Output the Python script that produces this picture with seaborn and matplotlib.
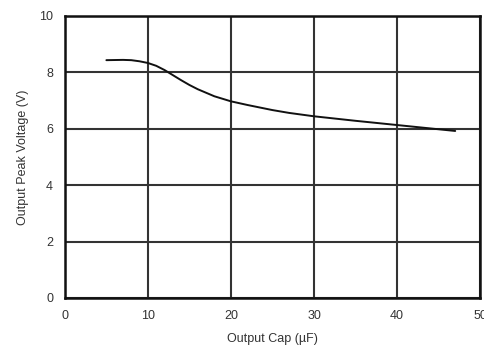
import matplotlib
matplotlib.use("Agg")
import matplotlib.pyplot as plt
import seaborn as sns
import pandas as pd

# Output peak voltage versus output capacitance
cap_uF = [5, 7, 8, 9, 10, 11, 12, 13, 14, 15, 16, 18, 20, 22, 25, 27, 30, 35, 40, 47]
peak_v = [8.43, 8.44, 8.43, 8.39, 8.33, 8.23, 8.08, 7.90, 7.72, 7.55, 7.40, 7.15,
          6.97, 6.84, 6.66, 6.56, 6.44, 6.28, 6.13, 5.92]
x_ticks = [0, 10, 20, 30, 40, 50]
y_ticks = [0, 2, 4, 6, 8, 10]

df = pd.DataFrame({"cap": cap_uF, "vpk": peak_v})

sns.set_style("white")
plt.rcParams["font.family"] = ["Liberation Sans", "DejaVu Sans"]

fig = plt.figure(figsize=(4.84, 3.53), dpi=100)
ax = fig.add_axes([0.134, 0.156, 0.858, 0.799])

sns.lineplot(data=df, x="cap", y="vpk", ax=ax, color="#111111", linewidth=1.4)

ax.set_xlim(0, 50)
ax.set_ylim(0, 10)
ax.set_xticks(x_ticks)
ax.set_yticks(y_ticks)
ax.grid(True, color="#333333", linewidth=1.5)
ax.set_axisbelow(True)
for s in ax.spines.values():
    s.set_color("#111111")
    s.set_linewidth(1.8)
ax.tick_params(axis="x", length=0, pad=8.5, labelsize=9, colors="#333333")
ax.tick_params(axis="y", length=0, pad=8.5, labelsize=9, colors="#333333")
ax.set_xlabel("Output Cap (µF)", fontsize=9, color="#333333", labelpad=8)
ax.set_ylabel("Output Peak Voltage (V)", fontsize=9, color="#333333", labelpad=7)

fig.savefig("out.png", dpi=100)
